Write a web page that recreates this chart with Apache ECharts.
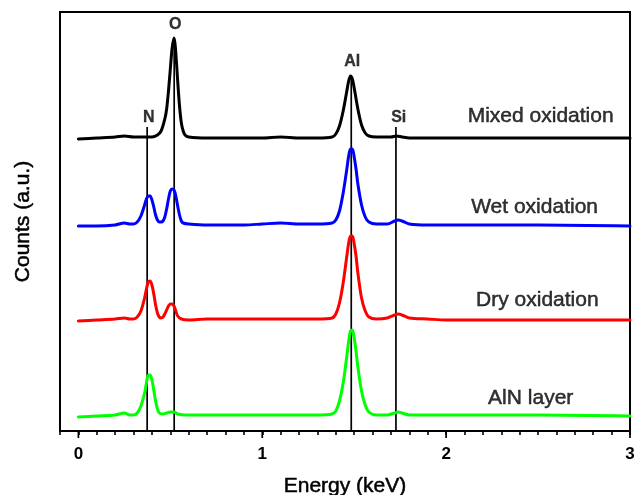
<!DOCTYPE html>
<html>
<head>
<meta charset="utf-8">
<script src="https://cdn.jsdelivr.net/npm/echarts@6/dist/echarts.min.js"></script>
<style>
html,body{margin:0;padding:0;background:#fff;}
#c{width:637px;height:495px;}
</style>
</head>
<body>
<div id="c"></div>
<script>
// Energy (keV), counts (a.u.) pairs
var mixedOxidation = [
  [0.00,292],[0.10,293],[0.20,294],[0.25,295],[0.30,294],[0.35,294],[0.40,294],[0.43,296],
  [0.45,300],[0.47,312],[0.48,322],[0.49,340],[0.50,362],[0.51,383],[0.52,393],[0.525,388],
  [0.53,378],[0.54,350],[0.55,325],[0.56,308],[0.57,300],[0.58,296],[0.60,294],[0.70,293],
  [0.80,293],[0.90,293],[1.00,293],[1.10,294],[1.20,293],[1.30,293],[1.38,294],[1.40,297],
  [1.42,305],[1.44,320],[1.46,340],[1.47,350],[1.48,355],[1.49,352],[1.50,343],[1.52,322],
  [1.54,306],[1.56,298],[1.58,295],[1.62,294],[1.70,294],[1.73,295],[1.76,294],[1.80,293],
  [2.00,293],[2.50,293],[3.00,293]
];
var wetOxidation = [
  [0.00,205],[0.10,205],[0.20,206],[0.25,208],[0.28,207],[0.30,207],[0.32,209],[0.34,215],
  [0.36,226],[0.37,232],[0.38,235],[0.39,235],[0.40,231],[0.41,224],[0.42,216],[0.43,211],
  [0.44,209],[0.45,209],[0.46,210],[0.47,214],[0.48,222],[0.49,232],[0.50,240],[0.51,242],
  [0.52,241],[0.53,235],[0.54,225],[0.55,216],[0.56,210],[0.57,208],[0.60,207],[0.70,206],
  [0.80,206],[0.90,206],[1.00,207],[1.10,208],[1.20,207],[1.30,207],[1.38,208],[1.40,211],
  [1.42,220],[1.44,238],[1.46,262],[1.47,275],[1.48,282],[1.49,282],[1.50,274],[1.51,262],
  [1.52,247],[1.54,226],[1.56,214],[1.58,209],[1.62,207],[1.68,207],[1.72,210],[1.74,211],
  [1.76,210],[1.80,207],[1.90,206],[2.00,206],[2.50,206],[3.00,205]
];
var dryOxidation = [
  [0.00,110],[0.10,111],[0.20,112],[0.25,113],[0.28,112],[0.30,112],[0.32,114],[0.34,120],
  [0.36,133],[0.37,142],[0.38,149],[0.39,150],[0.40,146],[0.41,137],[0.42,126],[0.43,118],
  [0.44,114],[0.45,113],[0.46,114],[0.47,117],[0.48,121],[0.49,125],[0.50,127],[0.51,127],
  [0.52,125],[0.53,120],[0.54,115],[0.56,112],[0.60,111],[0.70,112],[0.80,112],[0.90,112],
  [1.00,112],[1.10,112],[1.20,112],[1.30,112],[1.38,113],[1.40,117],[1.42,128],[1.44,148],
  [1.46,175],[1.47,188],[1.48,195],[1.49,195],[1.50,187],[1.51,175],[1.52,158],[1.54,133],
  [1.56,120],[1.58,114],[1.62,112],[1.68,113],[1.72,116],[1.74,117],[1.76,116],[1.80,113],
  [1.90,112],[2.00,111],[2.50,111],[3.00,111]
];
var alnLayer = [
  [0.00,14],[0.10,15],[0.20,16],[0.25,18],[0.28,16],[0.30,16],[0.32,18],[0.34,25],
  [0.36,38],[0.37,48],[0.38,56],[0.39,56],[0.40,51],[0.41,41],[0.42,30],[0.43,22],
  [0.44,18],[0.46,17],[0.48,18],[0.50,19],[0.52,19],[0.54,17],[0.58,16],[0.70,16],
  [0.80,16],[0.90,16],[1.00,16],[1.10,16],[1.20,16],[1.30,16],[1.38,17],[1.40,20],
  [1.42,30],[1.44,48],[1.46,75],[1.47,90],[1.48,100],[1.49,101],[1.50,93],[1.51,80],
  [1.52,64],[1.54,40],[1.56,26],[1.58,19],[1.62,16],[1.68,16],[1.72,18],[1.74,19],
  [1.76,18],[1.80,16],[1.90,16],[2.00,16],[2.50,16],[3.00,15]
];
// element reference lines: [energy, top of line]
var elementLines = [[0.374,304],[0.521,393],[1.484,355],[1.727,304]];
// element labels: [name, energy, counts]
var elementLabels = [["N",0.383,313],["O",0.527,406],["Al",1.489,369],["Si",1.742,313]];
// series labels: [text, energy, counts]
var seriesLabels = [["Mixed oxidation",2.514,315],["Wet oxidation",2.481,224],["Dry oxidation",2.496,131],["AlN layer",2.46,33]];
var majorTicks = [0,1,2,3];

var FONT = 'Liberation Sans, Arial, sans-serif';
var chart = echarts.init(document.getElementById('c'), null, {renderer:'canvas'});

var series = [];
elementLines.forEach(function(l){
  series.push({type:'line', data:[[l[0],0],[l[0],l[1]]], symbol:'none', silent:true,
    lineStyle:{color:'#000', width:1.7}, z:1});
});
[[mixedOxidation,'#000000'],[wetOxidation,'#0000ff'],[dryOxidation,'#ff0000'],[alnLayer,'#00ff00']].forEach(function(s){
  series.push({type:'line', data:s[0], symbol:'none', smooth:0.3, silent:true,
    lineStyle:{color:s[1], width:3, join:'round', cap:'round'}, z:2});
});
series.push({type:'scatter', symbolSize:0, silent:true, z:5,
  data:elementLabels.map(function(e){return {value:[e[1],e[2]], name:e[0]};}),
  label:{show:true, position:'inside', formatter:'{b}', color:'#000000', fontFamily:FONT, fontWeight:'bold', fontSize:16,
    textBorderColor:'#000', textBorderWidth:0.3}
});
series.push({type:'scatter', symbolSize:0, silent:true, z:5,
  data:seriesLabels.map(function(e){return {value:[e[1],e[2]], name:e[0]};}),
  label:{show:true, position:'inside', formatter:'{b}', color:'#000000', fontFamily:FONT, fontSize:21,
    textBorderColor:'#000', textBorderWidth:0.5}
});
series.push({type:'custom', silent:true, clip:false, z:6,
  data:majorTicks.map(function(t){return [t,0];}),
  renderItem:function(params, api){
    var p = api.coord([api.value(0), 0]);
    return {type:'line', shape:{x1:p[0], y1:p[1], x2:p[0], y2:p[1]+7}, style:{stroke:'#000', lineWidth:1.7}};
  }
});

chart.setOption({
  animation:false,
  backgroundColor:'#fff',
  grid:{left:60, right:7, top:12, bottom:64, show:true, borderColor:'#000', borderWidth:2, backgroundColor:'transparent',
    containLabel:false, outerBoundsMode:'none'},
  xAxis:{type:'value', min:-0.1, max:3, interval:0.1,
    name:'Energy (keV)', nameLocation:'middle', nameGap:45,
    nameTextStyle:{fontFamily:FONT, fontSize:21, color:'#000', textBorderColor:'#000', textBorderWidth:0.5},
    axisLine:{show:true, onZero:false, lineStyle:{color:'#000', width:2}},
    axisTick:{show:true, length:4, lineStyle:{color:'#000', width:1.6}},
    splitLine:{show:false},
    axisLabel:{margin:15, fontFamily:FONT, fontSize:17, fontWeight:'bold', color:'#000',
      showMinLabel:true, showMaxLabel:true, interval:0,
      formatter:function(v){ var r=Math.round(v); return Math.abs(v-r)<1e-6 ? String(r) : ''; }}
  },
  yAxis:{type:'value', min:0, max:419,
    name:'Counts (a.u.)', nameLocation:'middle', nameGap:26,
    nameTextStyle:{fontFamily:FONT, fontSize:21, color:'#000', textBorderColor:'#000', textBorderWidth:0.5},
    axisLine:{show:true, onZero:false, lineStyle:{color:'#000', width:2}},
    axisTick:{show:false}, axisLabel:{show:false}, splitLine:{show:false}
  },
  series:series
});
</script>
</body>
</html>
